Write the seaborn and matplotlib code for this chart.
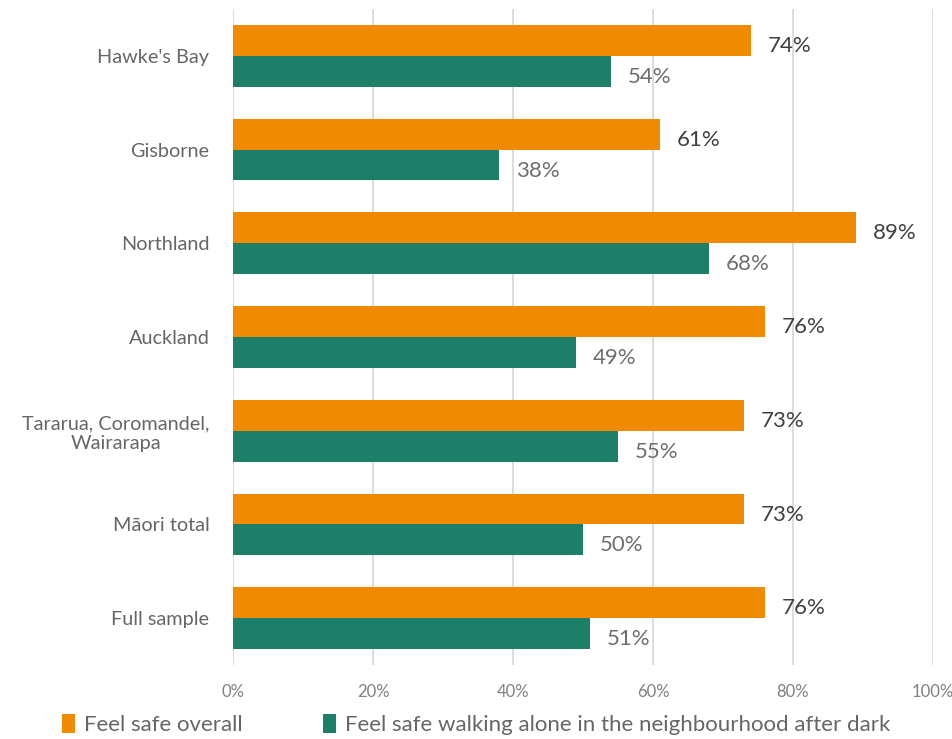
import matplotlib
matplotlib.use("Agg")
import matplotlib.pyplot as plt
import seaborn as sns
import pandas as pd
from matplotlib.patches import Patch

categories = ["Hawke's Bay", "Gisborne", "Northland", "Auckland",
              "Tararua, Coromandel,\nWairarapa", "Māori total", "Full sample"]
overall = [74, 61, 89, 76, 73, 73, 76]
after_dark = [54, 38, 68, 49, 55, 50, 51]
series = ["Feel safe overall", "Feel safe walking alone in the neighbourhood after dark"]
colors = ["#F08A00", "#1E7F68"]
xticks = [0, 20, 40, 60, 80, 100]

df = pd.DataFrame({
    "Region": categories * 2,
    "Value": overall + after_dark,
    "Series": [series[0]] * len(categories) + [series[1]] * len(categories),
})

sns.set_theme(style="white")
plt.rcParams['font.family'] = ['Lato', 'DejaVu Sans']

fig = plt.figure(figsize=(9.52, 7.39), dpi=100)
ax = fig.add_axes([233/952, (739-665)/739, 700/952, (665-9)/739])

sns.barplot(data=df, y="Region", x="Value", hue="Series", orient="h",
            palette=colors, width=0.66, ax=ax, legend=False, saturation=1,
            linewidth=0)

ax.set_xlim(0, 100)
ax.set_xticks(xticks)
ax.set_xticklabels([f"{t}%" for t in xticks], color="#808080", fontsize=12)
ax.tick_params(axis="x", length=0, pad=14)
ax.tick_params(axis="y", length=0, pad=17)
for lab in ax.get_yticklabels():
    lab.set_fontsize(14.3)
    lab.set_color("#666666")
    lab.set_multialignment("center")
ax.set_xlabel("")
ax.set_ylabel("")
ax.xaxis.grid(True, color="#D9D9D9", linewidth=1.3)
ax.set_axisbelow(True)
for s in ax.spines.values():
    s.set_visible(False)

label_colors = ["#404040", "#6E6E6E"]
for i, cont in enumerate(ax.containers):
    texts = ax.bar_label(cont, labels=[f"{v:.0f}%" for v in cont.datavalues], padding=12,
                         fontsize=16, color=label_colors[i])
    for t in texts:
        t.xyann = (12, -4)

handles = [Patch(facecolor=c, edgecolor="none") for c in colors]
fig.legend(handles, series, loc="lower left", bbox_to_anchor=(42/952, -0.022), ncol=2,
           frameon=False, fontsize=16, handlelength=0.6, handleheight=0.9,
           handletextpad=0.4, columnspacing=3.6, labelcolor="#666666")

fig.savefig("out.png", dpi=100)
